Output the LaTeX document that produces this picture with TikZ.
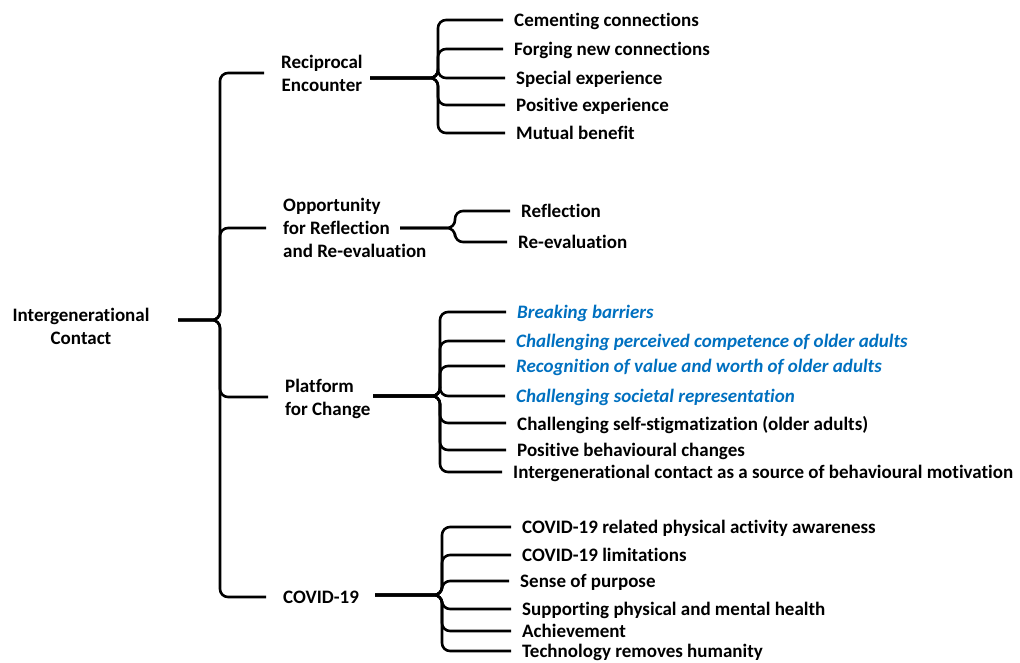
\documentclass[tikz,border=0pt]{standalone}
\usepackage{fontspec}
\setmainfont{Carlito}[Ligatures=NoCommon]
\usepackage{tikz}
\definecolor{themeblue}{RGB}{0,112,192}

\tikzset{
  txt/.style={font=\bfseries\fontsize{19}{23}\selectfont, inner ysep=0pt, text depth=0pt},
  leaf/.style={txt, anchor=west, inner xsep=11pt},
  hint/.style={leaf, text=themeblue, font=\bfseries\itshape\fontsize{19}{23}\selectfont},
  topic/.style={txt, anchor=west, inner xsep=17pt, align=left},
  brace/.style={line width=2.6pt, rounded corners=8pt},
}

\begin{document}
\begin{tikzpicture}[x=1pt, y=-1pt]
  \useasboundingbox (0,0) rectangle (1020,662);

  % root
  \node [txt, align=center] (ic) at (81,326) {Intergenerational\\Contact};
  \coordinate (ic-s) at (178,320);
  \coordinate (ic-c) at (220,320);

  % first level
  \node [topic, align=center] (re) at (264,73) {Reciprocal\\Encounter};
  \node [topic] (op) at (266,228) {Opportunity\\for Reflection\\and Re-evaluation};
  \node [topic] (pc) at (268,397) {Platform\\for Change};
  \node [topic] (cv) at (266,597) {COVID-19};

  \draw [brace] (ic-s) -- (ic-c) |- (re.west);
  \draw [brace] (ic-s) -- (ic-c) |- (op.west);
  \draw [brace] (ic-s) -- (ic-c) |- (pc.west);
  \draw [brace] (ic-s) -- (ic-c) |- (cv.west);

  % reciprocal encounter
  \coordinate (re-s) at (370,78);
  \coordinate (re-c) at (438,78);
  \node [leaf] (cem) at (503,20) {Cementing connections};
  \node [leaf] (forg) at (503,49) {Forging new connections};
  \node [leaf] (spec) at (505,78) {Special experience};
  \node [leaf] (posx) at (505,105) {Positive experience};
  \node [leaf] (mut) at (505,133) {Mutual benefit};
  \draw [brace] (re-s) -- (re-c) |- (cem.west);
  \draw [brace] (re-s) -- (re-c) |- (forg.west);
  \draw [brace] (re-s) -- (re-c) |- (spec.west);
  \draw [brace] (re-s) -- (re-c) |- (posx.west);
  \draw [brace] (re-s) -- (re-c) |- (mut.west);

  % reflection
  \coordinate (op-s) at (400,228);
  \coordinate (op-c) at (455,228);
  \node [leaf] (refl) at (510,211) {Reflection};
  \node [leaf] (reev) at (507,242) {Re-evaluation};
  \draw [brace] (op-s) -- (op-c) |- (refl.west);
  \draw [brace] (op-s) -- (op-c) |- (reev.west);

  % platform for change
  \coordinate (pc-s) at (373,396);
  \coordinate (pc-c) at (440,396);
  \node [hint] (brk) at (506,312) {Breaking barriers};
  \node [hint] (comp) at (505,341) {Challenging perceived competence of older adults};
  \node [hint] (recog) at (505,366) {Recognition of value and worth of older adults};
  \node [hint] (soc) at (505,396) {Challenging societal representation};
  \node [leaf] (stig) at (506,423) {Challenging self-stigmatization (older adults)};
  \node [leaf] (beh) at (506,450) {Positive behavioural changes};
  \node [leaf] (mot) at (502,472) {Intergenerational contact as a source of behavioural motivation};
  \draw [brace] (pc-s) -- (pc-c) |- (brk.west);
  \draw [brace] (pc-s) -- (pc-c) |- (comp.west);
  \draw [brace] (pc-s) -- (pc-c) |- (recog.west);
  \draw [brace] (pc-s) -- (pc-c) |- (soc.west);
  \draw [brace] (pc-s) -- (pc-c) |- (stig.west);
  \draw [brace] (pc-s) -- (pc-c) |- (beh.west);
  \draw [brace] (pc-s) -- (pc-c) |- (mot.west);

  % covid
  \coordinate (cv-s) at (375,595);
  \coordinate (cv-c) at (442,595);
  \node [leaf] (aw) at (511,527) {COVID-19 related physical activity awareness};
  \node [leaf] (lim) at (511,555) {COVID-19 limitations};
  \node [leaf] (purp) at (509,581) {Sense of purpose};
  \node [leaf] (hlth) at (511,609) {Supporting physical and mental health};
  \node [leaf] (ach) at (511,631) {Achievement};
  \node [leaf] (tech) at (511,651) {Technology removes humanity};
  \draw [brace] (cv-s) -- (cv-c) |- (aw.west);
  \draw [brace] (cv-s) -- (cv-c) |- (lim.west);
  \draw [brace] (cv-s) -- (cv-c) |- (purp.west);
  \draw [brace] (cv-s) -- (cv-c) |- (hlth.west);
  \draw [brace] (cv-s) -- (cv-c) |- (ach.west);
  \draw [brace] (cv-s) -- (cv-c) |- (tech.west);
\end{tikzpicture}
\end{document}
